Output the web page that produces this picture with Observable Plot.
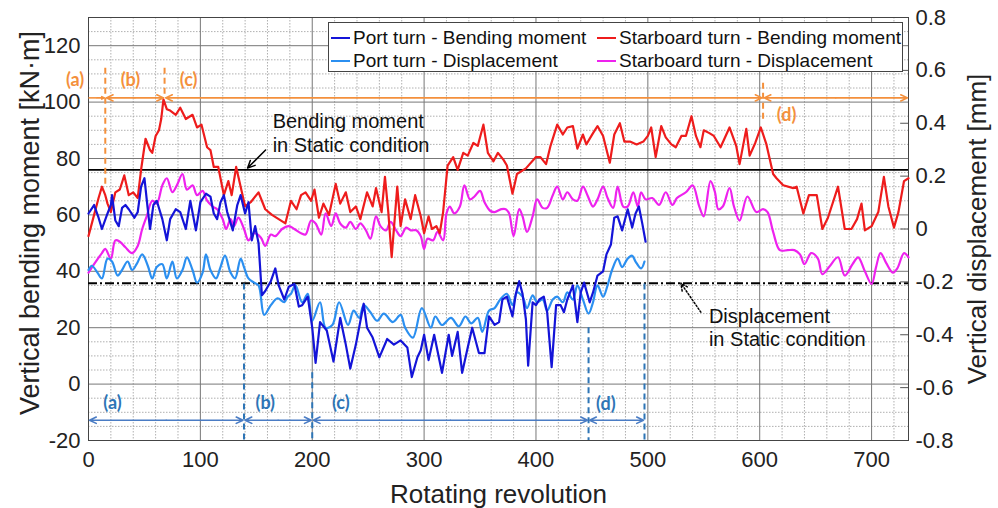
<!DOCTYPE html>
<html><head><meta charset="utf-8">
<script src="https://cdn.jsdelivr.net/npm/d3@7"></script>
<script src="https://cdn.jsdelivr.net/npm/@observablehq/plot@0.6"></script>
<style>
body{margin:0;background:#fff;}
#wrap{position:relative;width:998px;height:508px;font-family:"Liberation Sans",Arial,sans-serif;}
#wrap svg{position:absolute;left:0;top:0;overflow:visible;}
#legend{position:absolute;left:328px;top:22px;width:575px;height:50px;border:1px solid #444;background:#fff;box-sizing:border-box;z-index:2;}
.item{position:absolute;font-size:19px;line-height:20px;color:#111;white-space:nowrap;}
.item .sw{display:inline-block;width:19px;height:2px;vertical-align:middle;margin-right:3px;position:relative;top:-1px;}
</style></head>
<body><div id="wrap"><div id="legend"></div></div>
<script>
// ---------- data ----------
const xTicks = [0,100,200,300,400,500,600,700];
const yTicks = [-20,0,20,40,60,80,100,120];
const rightTicks = [-0.8,-0.6,-0.4,-0.2,0,0.2,0.4,0.6,0.8];
const seriesNames = ["Port turn - Bending moment","Port turn - Displacement","Starboard turn - Bending moment","Starboard turn - Displacement"];
const seriesColors = ["#1414d8","#2b8ff0","#ee1c1c","#ee22ee"];

// Port turn - bending moment [kN·m]  (revolution, value)
const portBending = [[0,60.5],[5,63.5],[9,59],[12,55],[17,60.5],[20,63.5],[21,67],[24,58],[27,56],[30,62.5],[33,63.5],[36,62],[41,59],[44,61],[47,70],[50,73],[53,62],[55,55],[58,63.5],[61,65],[66,58.5],[70,51],[73,58.5],[78,62],[82,61],[87,55],[91,65],[96,54.5],[100,64.5],[105,67.5],[109,66.5],[112,60.5],[115,58.5],[118,64.5],[121,67],[124,61],[129,54.5],[133,63.5],[136,67],[140,60.5],[143,64.5],[146,51],[149,56],[152,50],[155,31.5],[158,33],[163,36.5],[167,41],[170,35],[175,30],[179,34.5],[184,35.5],[188,27.5],[191,28],[196,31],[200,20],[203,7.5],[207,22],[213,19],[219,8],[225,23.5],[230,14],[234,5.5],[239,14],[246,28.5],[249,20],[254,16.5],[260,9.5],[267,16],[273,14],[279,15.5],[285,13],[289,2.5],[294,9.5],[297,12],[300,17.5],[304,8.5],[309,17.5],[316,4],[322,17.5],[325,10],[330,18.5],[334,4],[339,13],[343,20],[349,11],[354,11],[358,24],[363,21],[367,22],[370,30],[374,31],[379,24],[382,32],[385,36.5],[388,32],[391,23],[393,6.5],[397,29],[400,28],[403,30],[407,31],[410,25.5],[414,6],[418,28],[422,28],[425,25.5],[428,30],[433,35],[437,22],[440,32.5],[443,36],[448,29],[451,32.5],[455,38.5],[460,40],[463,46],[467,49.5],[470,59],[473,59.5],[477,54.5],[482,62],[486,55.5],[489,60.5],[492,63],[495,57],[498,50.5]];

// Port turn - displacement [mm]
const portDisp = [[0,-0.155],[3,-0.139],[8,-0.165],[12,-0.187],[17,-0.112],[21,-0.123],[26,-0.176],[30,-0.155],[35,-0.123],[39,-0.155],[43,-0.133],[48,-0.096],[53,-0.139],[57,-0.187],[61,-0.144],[66,-0.133],[70,-0.187],[75,-0.123],[79,-0.187],[84,-0.155],[88,-0.107],[93,-0.155],[97,-0.203],[102,-0.165],[105,-0.096],[109,-0.155],[114,-0.187],[118,-0.144],[122,-0.101],[127,-0.165],[131,-0.187],[136,-0.112],[139,-0.144],[143,-0.187],[148,-0.203],[152,-0.213],[157,-0.325],[163,-0.288],[169,-0.262],[175,-0.277],[178,-0.256],[181,-0.245],[185,-0.213],[191,-0.277],[196,-0.245],[200,-0.347],[207,-0.277],[212,-0.373],[218,-0.363],[224,-0.277],[232,-0.363],[237,-0.309],[242,-0.336],[246,-0.288],[252,-0.315],[258,-0.347],[264,-0.32],[272,-0.352],[279,-0.325],[283,-0.373],[290,-0.411],[298,-0.299],[306,-0.373],[310,-0.331],[316,-0.363],[324,-0.336],[331,-0.368],[337,-0.331],[342,-0.357],[348,-0.336],[352,-0.389],[358,-0.309],[363,-0.299],[368,-0.267],[374,-0.245],[379,-0.288],[383,-0.24],[388,-0.256],[392,-0.299],[397,-0.251],[401,-0.277],[406,-0.267],[410,-0.309],[415,-0.267],[419,-0.256],[424,-0.277],[428,-0.24],[433,-0.267],[437,-0.213],[442,-0.267],[447,-0.32],[451,-0.277],[455,-0.213],[460,-0.256],[464,-0.213],[468,-0.155],[473,-0.112],[477,-0.144],[482,-0.112],[486,-0.101],[489,-0.123],[494,-0.149],[497,-0.123]];

// Starboard turn - bending moment [kN·m]
const starBending = [[0,52.5],[5,60],[9,66],[12,70],[15,67],[17,64],[20,61],[24,68],[28,69],[32,74],[36,67],[40,68],[44,66],[47,76],[51,87],[55,83],[57,82],[60,88],[63,90],[65,94],[67,101],[70,97.5],[73,97],[78,95.5],[82,98],[87,94],[93,95.5],[97,91],[101,92],[106,84],[109,83],[112,77],[116,77],[121,67],[125,72],[128,67],[132,77],[136,70],[140,63],[145,64.5],[152,68],[158,62],[164,60],[170,58.5],[176,57],[181,65],[186,62],[190,67],[194,68],[199,65],[202,69],[206,59],[210,64],[215,60],[221,71],[225,64],[230,68],[234,61],[239,63],[243,58.5],[249,68],[254,63],[257,69.5],[262,61],[265,73.5],[268,61],[271,45],[276,70],[279,56],[283,65.5],[288,58.5],[292,67],[297,59.5],[300,53.5],[304,59.5],[307,55],[311,56],[314,53.5],[317,61],[321,77.5],[326,80.5],[330,76],[335,82],[339,81],[344,85.5],[348,84.5],[353,92],[357,82],[362,79],[366,82],[371,79.5],[374,77.5],[379,67.5],[383,74.5],[391,76.5],[400,80.5],[404,80.5],[409,78],[413,84.5],[419,92],[424,88.5],[428,91],[433,91.5],[437,83.5],[442,88.5],[445,85],[451,89],[455,91.5],[460,88],[466,78.5],[470,88.5],[475,92.5],[479,86],[484,86],[490,85],[496,86],[500,88],[503,91],[507,80.5],[512,91.5],[516,87.5],[521,85],[525,84],[530,88],[534,88],[539,95],[543,88],[547,84],[550,90],[555,89],[559,88],[565,84],[573,91],[579,84.5],[582,78],[588,90.5],[591,81],[596,85.5],[601,91],[606,85],[612,74.5],[615,73],[621,70.5],[630,69.5],[633,70],[639,60.5],[644,67],[651,67],[656,55],[661,59],[670,70],[676,55],[682,55],[687,58.5],[691,64],[694,54.5],[700,56],[706,61],[711,73.5],[715,63],[720,55.5],[724,61],[729,72],[733,73]];

// Starboard turn - displacement [mm]
const starDisp = [[0,-0.165],[5,-0.133],[12,-0.091],[15,-0.075],[20,-0.112],[24,-0.043],[28,-0.048],[33,-0.069],[39,-0.091],[44,-0.064],[48,0],[52,0.048],[57,0.107],[61,0.096],[66,0.165],[70,0.192],[75,0.139],[79,0.165],[84,0.208],[88,0.149],[93,0.165],[97,0.128],[102,0.144],[106,0.107],[111,0.085],[115,0.075],[120,0.037],[123,0],[127,0.037],[130,0.011],[134,0.043],[139,0],[143,-0.043],[148,-0.016],[154,-0.032],[158,-0.064],[163,-0.021],[167,-0.027],[173,0],[179,0.011],[184,0],[190,-0.016],[194,-0.021],[199,0.032],[203,0.021],[208,-0.021],[212,0.059],[217,0.011],[221,0.059],[225,0.021],[230,0.005],[234,0.027],[239,0],[243,0.021],[248,-0.005],[252,-0.037],[257,0.048],[261,0.011],[266,-0.005],[270,0.027],[275,-0.005],[279,-0.027],[284,0.005],[288,-0.005],[293,-0.005],[297,-0.027],[300,-0.075],[303,-0.037],[308,-0.043],[312,-0.011],[317,-0.043],[320,0.059],[323,0.085],[327,0.059],[332,0.085],[336,0.165],[341,0.112],[345,0.123],[350,0.144],[354,0.101],[359,0.069],[363,0.064],[369,0.075],[373,0.075],[376,0.059],[380,-0.027],[385,0.075],[388,0.048],[392,-0.011],[397,0.048],[401,0.112],[406,0.08],[410,0.08],[415,0.128],[419,0.16],[424,0.112],[428,0.139],[433,0.112],[437,0.107],[442,0.16],[446,0.128],[451,0.085],[455,0.112],[460,0.16],[464,0.117],[469,0.08],[473,0.16],[478,0.085],[482,0.085],[487,0.139],[491,0.085],[494,0.139],[498,0.112],[504,0.117],[510,0.091],[516,0.139],[522,0.091],[526,0.117],[534,0.139],[540,0.165],[546,0.085],[550,0.048],[556,0.181],[560,0.139],[563,0.075],[567,0.085],[573,0.155],[577,0.085],[582,0.032],[589,0.123],[597,0.064],[603,0.075],[607,0.064],[612,-0.011],[618,-0.08],[625,-0.08],[631,-0.08],[636,-0.096],[640,-0.133],[646,-0.091],[652,-0.112],[656,-0.171],[662,-0.144],[670,-0.107],[676,-0.176],[683,-0.133],[688,-0.107],[694,-0.16],[700,-0.208],[704,-0.144],[708,-0.091],[713,-0.128],[719,-0.165],[723,-0.149],[729,-0.091],[733,-0.107]];

// reference levels
const staticBending = 76;      // kN·m
const staticDisp = -0.205;     // mm

// phase annotations
const orangeBounds = [0,15,68,603,733];
const orangeLabels = [{x:-12,y:107.8,t:"(a)"},{x:37.5,y:107.8,t:"(b)"},{x:89.5,y:107.8,t:"(c)"},{x:624,y:95.4,t:"(d)"}];
const orangeDashes = [{x:15,y1:112,y2:70},{x:68,y1:112,y2:101.5},{x:603,y1:106.7,y2:93.6}];
const orangeLevel = 101.5;
const blueBounds = [0,139,200,447,497];
const blueLabels = [{x:21.5,y:-6.8,t:"(a)"},{x:158,y:-6.8,t:"(b)"},{x:225.5,y:-6.8,t:"(c)"},{x:462.5,y:-7.3,t:"(d)"}];
const blueDashes = [{x:139,y1:35.5,y2:-20},{x:200,y1:4,y2:-20},{x:447,y1:20,y2:-20},{x:497,y1:35.5,y2:-20}];
const blueLevel = -12.8;
const noteBM = [{x:164.6,y:93.2,t:"Bending moment"},{x:164.6,y:84.6,t:"in Static condition"}];
const noteBMArrow = [{x1:158.3,y1:83,x2:142.2,y2:76.6}];
const noteDisp = [{x:554.6,y:23.9,t:"Displacement"},{x:554.6,y:15.9,t:"in Static condition"}];
const noteDispArrow = [{x1:547.4,y1:25.5,x2:529.5,y2:35.8}];

// ---------- helpers ----------
const toLeft = v => -20 + (v + 0.8) / 1.6 * 150;
const fromLeft = d => { const r = Math.round(((d + 20) / 150 * 1.6 - 0.8) * 10) / 10; return r === 0 ? "0" : String(r); };
const FONT = '"Liberation Sans", Arial, sans-serif';
const ORANGE = "#f4903c", BLUE = "#2e75b6";

function segArrows(bounds, level, skipFirstStart) {
  const out = [];
  for (let i = 0; i < bounds.length - 1; i++) {
    const a = bounds[i], b = bounds[i+1], m = (a + b) / 2;
    out.push({x1: m, y1: level, x2: b, y2: level});
    out.push({x1: m, y1: level, x2: a, y2: level, plain: skipFirstStart && i === 0});
  }
  return out;
}
const orangeArrows = segArrows(orangeBounds, orangeLevel, true);
const blueArrows = segArrows(blueBounds, blueLevel, false);

const xMinor = d3.range(20, 734, 20).filter(d => d % 100 !== 0);
const yMinor = d3.range(-15, 130, 5).filter(d => d % 20 !== 0);

const plot = Plot.plot({
  width: 998, height: 508,
  marginLeft: 88, marginRight: 90, marginTop: 17, marginBottom: 68,
  style: {fontFamily: FONT, background: "transparent", overflow: "visible"},
  x: {domain: [0, 733]},
  y: {domain: [-20, 130]},
  marks: [
    Plot.ruleX(xMinor, {stroke: "#9c9c9c", strokeWidth: 0.8, strokeDasharray: "1.5,1.5"}),
    Plot.ruleY(yMinor, {stroke: "#9c9c9c", strokeWidth: 0.8, strokeDasharray: "1.5,1.5"}),
    Plot.ruleX(xTicks.slice(1), {stroke: "#777", strokeWidth: 1}),
    Plot.ruleY(yTicks.slice(1), {stroke: "#777", strokeWidth: 1}),
    Plot.frame({stroke: "#444", strokeWidth: 1}),

    // static references
    Plot.ruleY([staticBending], {stroke: "#000", strokeWidth: 1.8}),
    Plot.ruleY([toLeft(staticDisp)], {stroke: "#000", strokeWidth: 2, strokeDasharray: "9,3,2,3"}),

    // series
    Plot.line(starDisp, {x: d => d[0], y: d => toLeft(d[1]), stroke: seriesColors[3], strokeWidth: 2.2, curve: "catmull-rom"}),
    Plot.line(starBending, {x: d => d[0], y: d => d[1], stroke: seriesColors[2], strokeWidth: 2.2}),
    Plot.line(portDisp, {x: d => d[0], y: d => toLeft(d[1]), stroke: seriesColors[1], strokeWidth: 2.2, curve: "catmull-rom"}),
    Plot.line(portBending, {x: d => d[0], y: d => d[1], stroke: seriesColors[0], strokeWidth: 2.2}),

    // orange phase annotations
    Plot.ruleX(orangeDashes, {x: "x", y1: "y1", y2: "y2", stroke: ORANGE, strokeWidth: 2, strokeDasharray: "6,4"}),
    Plot.link(orangeArrows.filter(d => d.plain), {x1: "x1", y1: "y1", x2: "x2", y2: "y2", stroke: ORANGE, strokeWidth: 1.6}),
    Plot.arrow(orangeArrows.filter(d => !d.plain), {x1: "x1", y1: "y1", x2: "x2", y2: "y2", stroke: ORANGE, strokeWidth: 1.6, headLength: 7, headAngle: 50, insetEnd: 1}),
    Plot.text(orangeLabels, {x: "x", y: "y", text: "t", fill: ORANGE, fontSize: 18, fontWeight: "bold", fontFamily: "Lato, sans-serif"}),

    // blue phase annotations
    Plot.ruleX(blueDashes, {x: "x", y1: "y1", y2: "y2", stroke: BLUE, strokeWidth: 2, strokeDasharray: "6,4"}),
    Plot.arrow(blueArrows, {x1: "x1", y1: "y1", x2: "x2", y2: "y2", stroke: "#4a7cc4", strokeWidth: 1.6, headLength: 7, headAngle: 50, insetEnd: 1}),
    Plot.text(blueLabels, {x: "x", y: "y", text: "t", fill: BLUE, fontSize: 18, fontWeight: "bold", fontFamily: "Lato, sans-serif"}),

    // static notes
    Plot.text(noteBM, {x: "x", y: "y", text: "t", textAnchor: "start", fontSize: 20, fill: "#111"}),
    Plot.arrow(noteBMArrow, {x1: "x1", y1: "y1", x2: "x2", y2: "y2", stroke: "#000", strokeWidth: 1.5, headLength: 8, headAngle: 50}),
    Plot.text(noteDisp, {x: "x", y: "y", text: "t", textAnchor: "start", fontSize: 20, fill: "#111"}),
    Plot.arrow(noteDispArrow, {x1: "x1", y1: "y1", x2: "x2", y2: "y2", stroke: "#000", strokeWidth: 1.5, strokeDasharray: "1.5,2", headLength: 8, headAngle: 50}),

    // axes
    Plot.axisX({ticks: xTicks, tickSize: 0, tickPadding: 11, fontSize: 22, label: null, fill: "#222"}),
    Plot.axisY({ticks: yTicks, tickFormat: d => String(d), tickSize: 0, tickPadding: 8, fontSize: 22, label: null, fill: "#222"}),
    Plot.axisY({anchor: "right", ticks: rightTicks.map(toLeft), tickFormat: fromLeft, tickSize: 0, tickPadding: 7, fontSize: 22, label: null, fill: "#222"}),
    Plot.ruleY(rightTicks.slice(1, -1).map(toLeft), {x1: 726, x2: 733, stroke: "#555", strokeWidth: 1}),
    Plot.text(["Vertical bending moment [kN·m]"], {frameAnchor: "left", textAnchor: "middle", lineAnchor: "middle", rotate: -90, dx: -58, dy: -6, fontSize: 27, fill: "#222"}),
    Plot.text(["Vertical displacement [mm]"], {frameAnchor: "right", textAnchor: "middle", lineAnchor: "middle", rotate: -90, dx: 69, fontSize: 26, fill: "#222"}),
    Plot.text(["Rotating revolution"], {frameAnchor: "bottom", textAnchor: "middle", lineAnchor: "middle", dy: 54, fontSize: 26, fill: "#222"})
  ]
});
const wrap = document.getElementById("wrap");
wrap.insertBefore(plot, wrap.firstChild);

// legend
const legend = document.getElementById("legend");
const pos = [{l:2,t:5},{l:2,t:28},{l:268,t:5},{l:268,t:28}];
seriesNames.forEach((n, i) => {
  const d = document.createElement("div");
  d.className = "item";
  d.style.left = pos[i].l + "px"; d.style.top = pos[i].t + "px";
  d.innerHTML = `<span class="sw" style="background:${seriesColors[i]}"></span>${n}`;
  legend.appendChild(d);
});
</script>
</body></html>
